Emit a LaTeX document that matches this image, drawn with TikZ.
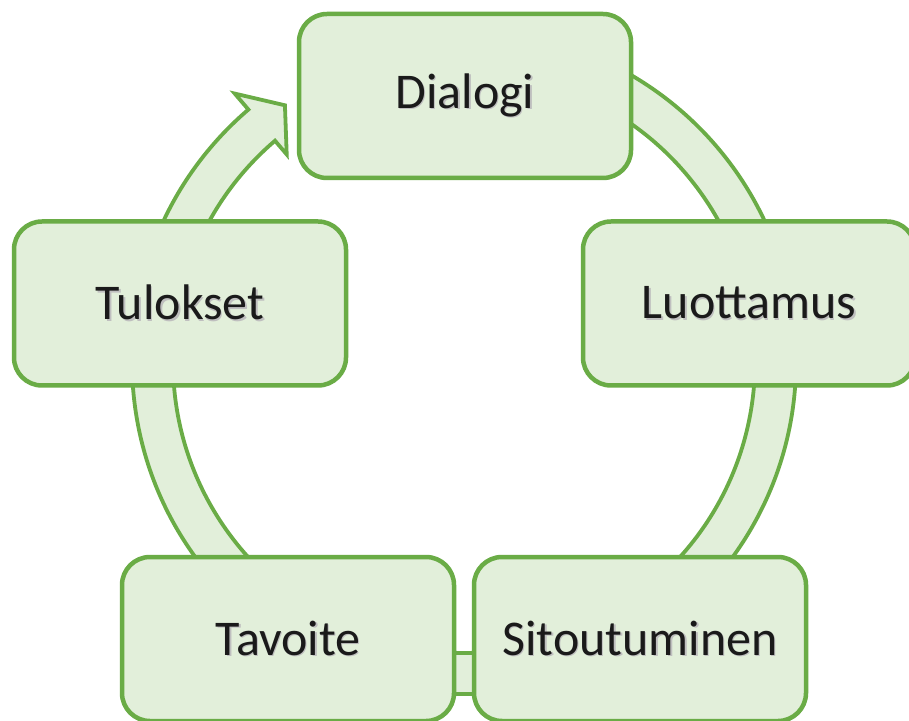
\documentclass[tikz,border=0pt]{standalone}
\usepackage{fontspec}
\setmainfont{Carlito}
\definecolor{grline}{HTML}{6AAC46}
\definecolor{grfill}{HTML}{E2EFDA}
\definecolor{txt}{HTML}{1A1A1A}
\newcommand\shtext[1]{\makebox[0pt][l]{\raisebox{-1.5pt}{\hspace{1.5pt}\textcolor{black!25}{#1}}}#1}
\tikzset{
  cyclebox/.style={draw=grline, fill=grfill, line width=4.5pt, rounded corners=28pt,
    minimum width=332pt, minimum height=164pt, inner sep=0pt,
    text=txt, font=\fontsize{50}{60}\selectfont},
  ringband/.style={draw=grline, fill=grfill, line width=3.8pt, line join=miter}
}
\begin{document}
\begin{tikzpicture}[x=1pt,y=1pt]
\useasboundingbox (0,0) rectangle (909,720);
\fill[white] (0,0) rectangle (909,720);
\begin{scope}[shift={(464,358)}]
\draw[ringband] (95:332pt) arc[start angle=95, end angle=-229.5, radius=332pt]
  -- (-229.5:353pt) -- (-235.1:313pt) -- (-229.5:273pt) -- (-229.5:291pt)
  arc[start angle=-229.5, end angle=95, radius=291pt] -- cycle;
\end{scope}
\node[cyclebox] (dialogi) at (465,624) {\shtext{Dialogi}};
\node[cyclebox] (luottamus) at (749,416.5) {\shtext{Luottamus}};
\node[cyclebox] (tulokset) at (180,416.5) {\shtext{Tulokset}};
\node[cyclebox] (tavoite) at (288,81) {\shtext{Tavoite}};
\node[cyclebox] (sitoutuminen) at (640,81) {\shtext{Sitoutuminen}};
\end{tikzpicture}
\end{document}
